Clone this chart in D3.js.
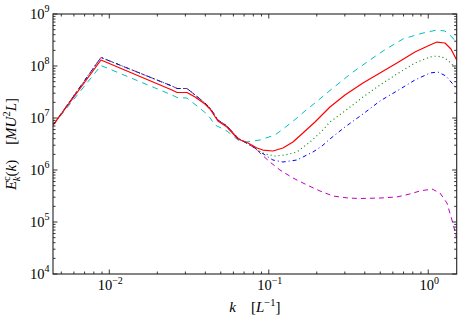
<!DOCTYPE html>
<html>
<head>
<meta charset="utf-8">
<script src="https://cdn.jsdelivr.net/npm/d3@7"></script>
<style>
  body { margin: 0; background: #fff; }
  svg { display: block; }
  text { font-family: "Liberation Serif", "DejaVu Serif", serif; fill: #000; }
</style>
</head>
<body>
<svg id="chart" width="463" height="321"></svg>
<script>
// k range of the spectrum and E range of the axis
const kDomain = [0.004436, 1.508];
const eDomain = [1e4, 1e9];

// low-k part shared by the blue, green and magenta runs
const sharedLow = [
  [0.00444, 7.3e6], [0.00887, 1.46e8], [0.0247, 4.12e7], [0.0266, 3.69e7],
  [0.0307, 3.69e7], [0.0345, 2.77e7], [0.0398, 1.94e7], [0.0428, 1.557e7],
  [0.0480, 9.15e6], [0.0547, 7.02e6], [0.0641, 4.12e6], [0.0741, 3.16e6],
  [0.0819, 2.65e6]
];

const redHigh = [
  [0.00444, 7.3e6], [0.00887, 1.305e8], [0.0247, 3.46e7], [0.0266, 3.09e7],
  [0.0307, 3.09e7], [0.0345, 2.53e7], [0.0398, 1.86e7], [0.0428, 1.49e7],
  [0.0480, 8.76e6], [0.0547, 6.71e6], [0.0641, 3.95e6], [0.0741, 3.31e6],
  [0.0843, 2.65e6], [0.0920, 2.42e6], [0.1062, 2.32e6], [0.1227, 2.65e6],
  [0.1418, 3.46e6], [0.1638, 5.15e6], [0.1949, 8.38e6], [0.2419, 1.63e7],
  [0.3004, 2.77e7], [0.3896, 4.71e7], [0.4979, 7.34e7], [0.6364, 1.142e8],
  [0.8253, 1.86e8], [1.025, 2.53e8], [1.134, 2.89e8], [1.273, 2.77e8],
  [1.388, 2.12e8], [1.507, 1.305e8]
];

const greenHigh = [
  [0.0843, 2.42e6], [0.0947, 2.03e6], [0.1094, 1.86e6], [0.1263, 1.94e6],
  [0.1502, 2.22e6], [0.1813, 3.46e6], [0.2094, 5.15e6], [0.2419, 8.38e6],
  [0.3004, 1.364e7], [0.3896, 2.53e7], [0.4979, 4.31e7], [0.6364, 7.02e7],
  [0.8253, 1.142e8], [1.025, 1.49e8], [1.134, 1.557e8], [1.273, 1.425e8],
  [1.388, 1.142e8], [1.507, 8.38e7]
];

const blueHigh = [
  [0.0907, 2.12e6], [0.1062, 1.557e6], [0.1227, 1.425e6], [0.1502, 1.557e6],
  [0.1893, 2.22e6], [0.2156, 2.89e6], [0.2419, 3.95e6], [0.3004, 6.71e6],
  [0.3896, 1.194e7], [0.4979, 2.12e7], [0.6364, 3.31e7], [0.8253, 5.38e7],
  [1.025, 7.34e7], [1.150, 7.66e7], [1.291, 6.42e7], [1.408, 4.71e7],
  [1.507, 3.78e7]
];

const magentaHigh = [
  [0.0881, 2.12e6], [0.1017, 1.425e6], [0.1175, 1.0e6], [0.1418, 7.02e5],
  [0.1736, 5.15e5], [0.2094, 3.95e5], [0.2527, 3.16e5], [0.3137, 2.89e5],
  [0.3730, 2.83e5], [0.4979, 2.89e5], [0.6364, 3.03e5], [0.7677, 3.46e5],
  [0.8870, 3.95e5], [1.055, 4.31e5], [1.184, 3.61e5], [1.310, 2.32e5],
  [1.408, 1.093e5], [1.507, 4.92e4]
];

const cyanRun = [
  [0.00444, 7.3e6], [0.00887, 1.022e8], [0.0247, 2.77e7], [0.0266, 2.48e7],
  [0.0307, 2.42e7], [0.0355, 1.70e7], [0.0416, 1.142e7], [0.0460, 7.34e6],
  [0.0547, 5.62e6], [0.0641, 3.78e6], [0.0730, 3.46e6], [0.0881, 3.78e6],
  [0.1094, 4.71e6], [0.1300, 7.02e6], [0.1502, 1.0e7], [0.1686, 1.364e7],
  [0.1949, 1.94e7], [0.2527, 3.78e7], [0.3372, 7.66e7], [0.4310, 1.305e8],
  [0.5200, 1.94e8], [0.6940, 3.31e8], [0.9264, 4.31e8], [1.134, 4.92e8],
  [1.273, 4.71e8], [1.408, 3.61e8], [1.507, 2.77e8]
];

const series = [
  { name: 'magenta', values: sharedLow.concat(magentaHigh), color: '#bf00bf', dash: '5,4', width: 1 },
  { name: 'blue', values: sharedLow.concat(blueHigh), color: '#0000ff', dash: '4,3,1,3', width: 1 },
  { name: 'green', values: sharedLow.concat(greenHigh), color: '#008000', dash: '1,3', width: 1.1 },
  { name: 'cyan', values: cyanRun, color: '#00bfbf', dash: '6,5', width: 1 },
  { name: 'red', values: redHigh, color: '#ff0000', dash: null, width: 1.2 }
];

const margin = { top: 14, right: 6.3, bottom: 47, left: 53 };
const width = 463;
const height = 321;

const svg = d3.select('#chart');

const x = d3.scaleLog().domain(kDomain).range([margin.left, width - margin.right]);
const y = d3.scaleLog().domain(eDomain).range([height - margin.bottom, margin.top]);

const [x0, x1] = x.range();
const [y0, y1] = y.range();

svg.append('clipPath').attr('id', 'plot-clip')
  .append('rect')
  .attr('x', x0).attr('y', y1)
  .attr('width', x1 - x0).attr('height', y0 - y1);

const line = d3.line()
  .x((d) => x(d[0]))
  .y((d) => y(d[1]));

const lines = svg.append('g').attr('clip-path', 'url(#plot-clip)');

lines.selectAll('path')
  .data(series)
  .join('path')
  .attr('d', (d) => line(d.values))
  .attr('fill', 'none')
  .attr('stroke', (d) => d.color)
  .attr('stroke-width', (d) => d.width)
  .attr('stroke-dasharray', (d) => d.dash)
  .attr('stroke-linejoin', 'round');

function isMajor(t) {
  const l = Math.log10(t);
  return Math.abs(l - Math.round(l)) < 1e-6;
}

function drawTicks() {
  const axes = svg.append('g').attr('stroke', '#000').attr('stroke-width', 0.8);

  x.ticks().forEach((t) => {
    const px = x(t);
    const len = isMajor(t) ? 4.5 : 2.5;
    axes.append('line').attr('x1', px).attr('x2', px).attr('y1', y0).attr('y2', y0 - len);
    axes.append('line').attr('x1', px).attr('x2', px).attr('y1', y1).attr('y2', y1 + len);
  });

  y.ticks().forEach((t) => {
    const py = y(t);
    const len = isMajor(t) ? 4.5 : 2.5;
    axes.append('line').attr('x1', x0).attr('x2', x0 + len).attr('y1', py).attr('y2', py);
    axes.append('line').attr('x1', x1).attr('x2', x1 - len).attr('y1', py).attr('y2', py);
  });

  svg.append('rect')
    .attr('x', x0).attr('y', y1)
    .attr('width', x1 - x0).attr('height', y0 - y1)
    .attr('fill', 'none')
    .attr('stroke', '#222')
    .attr('stroke-width', 1.1);
}

function powerLabel(sel, exp) {
  sel.append('tspan').text('10');
  sel.append('tspan')
    .attr('font-size', 10)
    .attr('dy', -6.5)
    .text(exp < 0 ? '\u2212' + -exp : String(exp));
}

function drawTickLabels() {
  x.ticks().filter(isMajor).forEach((t) => {
    const label = svg.append('text')
      .attr('x', x(t) + 1)
      .attr('y', y0 + 16)
      .attr('text-anchor', 'middle')
      .attr('font-size', 14.5);
    powerLabel(label, Math.round(Math.log10(t)));
  });

  y.ticks().filter(isMajor).forEach((t) => {
    const label = svg.append('text')
      .attr('x', x0 - 3.5)
      .attr('y', y(t) + 4.5)
      .attr('text-anchor', 'end')
      .attr('font-size', 14.5);
    powerLabel(label, Math.round(Math.log10(t)));
  });
}

function drawAxisTitles() {
  const xt = svg.append('text')
    .attr('x', (x0 + x1) / 2)
    .attr('y', 312)
    .attr('text-anchor', 'middle')
    .attr('font-size', 15);
  xt.append('tspan').attr('font-style', 'italic').text('k');
  xt.append('tspan').text('\u2002\u2002[');
  xt.append('tspan').attr('font-style', 'italic').text('L');
  xt.append('tspan').attr('font-size', 10.5).attr('dy', -6).text('\u22121');
  xt.append('tspan').attr('dy', 6).text(']');

  const yt = svg.append('text')
    .attr('transform', `translate(16, ${(y0 + y1) / 2}) rotate(-90)`)
    .attr('text-anchor', 'middle')
    .attr('font-size', 15);
  yt.append('tspan').attr('font-style', 'italic').text('E');
  yt.append('tspan').attr('font-size', 10.5).attr('dy', -6).text('c');
  yt.append('tspan').attr('font-size', 10.5).attr('font-style', 'italic').attr('dx', -5).attr('dy', 10).text('k');
  yt.append('tspan').attr('dy', -4).text('(');
  yt.append('tspan').attr('font-style', 'italic').text('k');
  yt.append('tspan').text(')\u2002\u2002[');
  yt.append('tspan').attr('font-style', 'italic').text('MU');
  yt.append('tspan').attr('font-size', 10.5).attr('dy', -6).text('2');
  yt.append('tspan').attr('font-style', 'italic').attr('dy', 6).text('L');
  yt.append('tspan').text(']');
}

drawTicks();
drawTickLabels();
drawAxisTitles();
</script>
</body>
</html>
